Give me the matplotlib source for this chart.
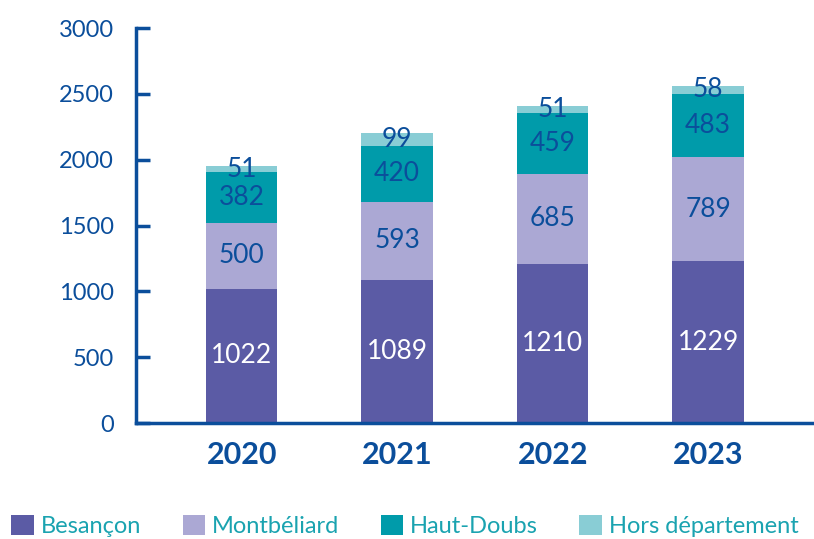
import numpy as np
import matplotlib.pyplot as plt

# data
years = ['2020', '2021', '2022', '2023']
besancon = np.array([1022, 1089, 1210, 1229])
montbeliard = np.array([500, 593, 685, 789])
haut_doubs = np.array([382, 420, 459, 483])
hors_dep = np.array([51, 99, 51, 58])

series = [
    ('Besançon', besancon, '#5b5ba5', 'white'),
    ('Montbéliard', montbeliard, '#aba8d4', '#0b4e9b'),
    ('Haut-Doubs', haut_doubs, '#009baa', '#0b4e9b'),
    ('Hors département', hors_dep, '#89cdd5', '#0b4e9b'),
]

plt.rcParams['font.family'] = ['Lato', 'DejaVu Sans']
axis_col = '#0b4e9b'

fig = plt.figure(figsize=(8.14, 5.39), dpi=100)
ax = fig.add_axes([0.167, 0.215, 0.831, 0.733])

x = np.arange(len(years))
bottom = np.zeros(len(years))
for name, vals, col, tcol in series:
    ax.bar(x, vals, width=0.46, bottom=bottom, color=col, label=name)
    for xi, b, v in zip(x, bottom, vals):
        ax.text(xi, b + v / 2, str(v), ha='center', va='center',
                fontsize=19, color=tcol)
    bottom = bottom + vals

ax.set_ylim(0, 3000)
ax.set_xlim(-0.68, 3.67)
ax.set_yticks(range(0, 3001, 500))
ax.set_xticks(x)
ax.set_xticklabels(years, fontweight='bold')

for s in ['top', 'right']:
    ax.spines[s].set_visible(False)
ax.spines['left'].set_color(axis_col)
ax.spines['bottom'].set_color(axis_col)
ax.spines['left'].set_linewidth(2.5)
ax.spines['bottom'].set_linewidth(2.5)
ax.tick_params(axis='y', direction='in', length=10, width=2.5, color=axis_col,
               labelcolor=axis_col, labelsize=17, pad=16)
ax.tick_params(axis='x', length=0, labelcolor=axis_col, labelsize=22, pad=13)

fig.legend(loc='lower left', bbox_to_anchor=(-0.012, -0.036), ncol=4, frameon=False,
           fontsize=17, labelcolor='#1aa3b0', handlelength=0.95, handleheight=0.95,
           handletextpad=0.3, columnspacing=1.75)

fig.savefig('out.png', dpi=100)
